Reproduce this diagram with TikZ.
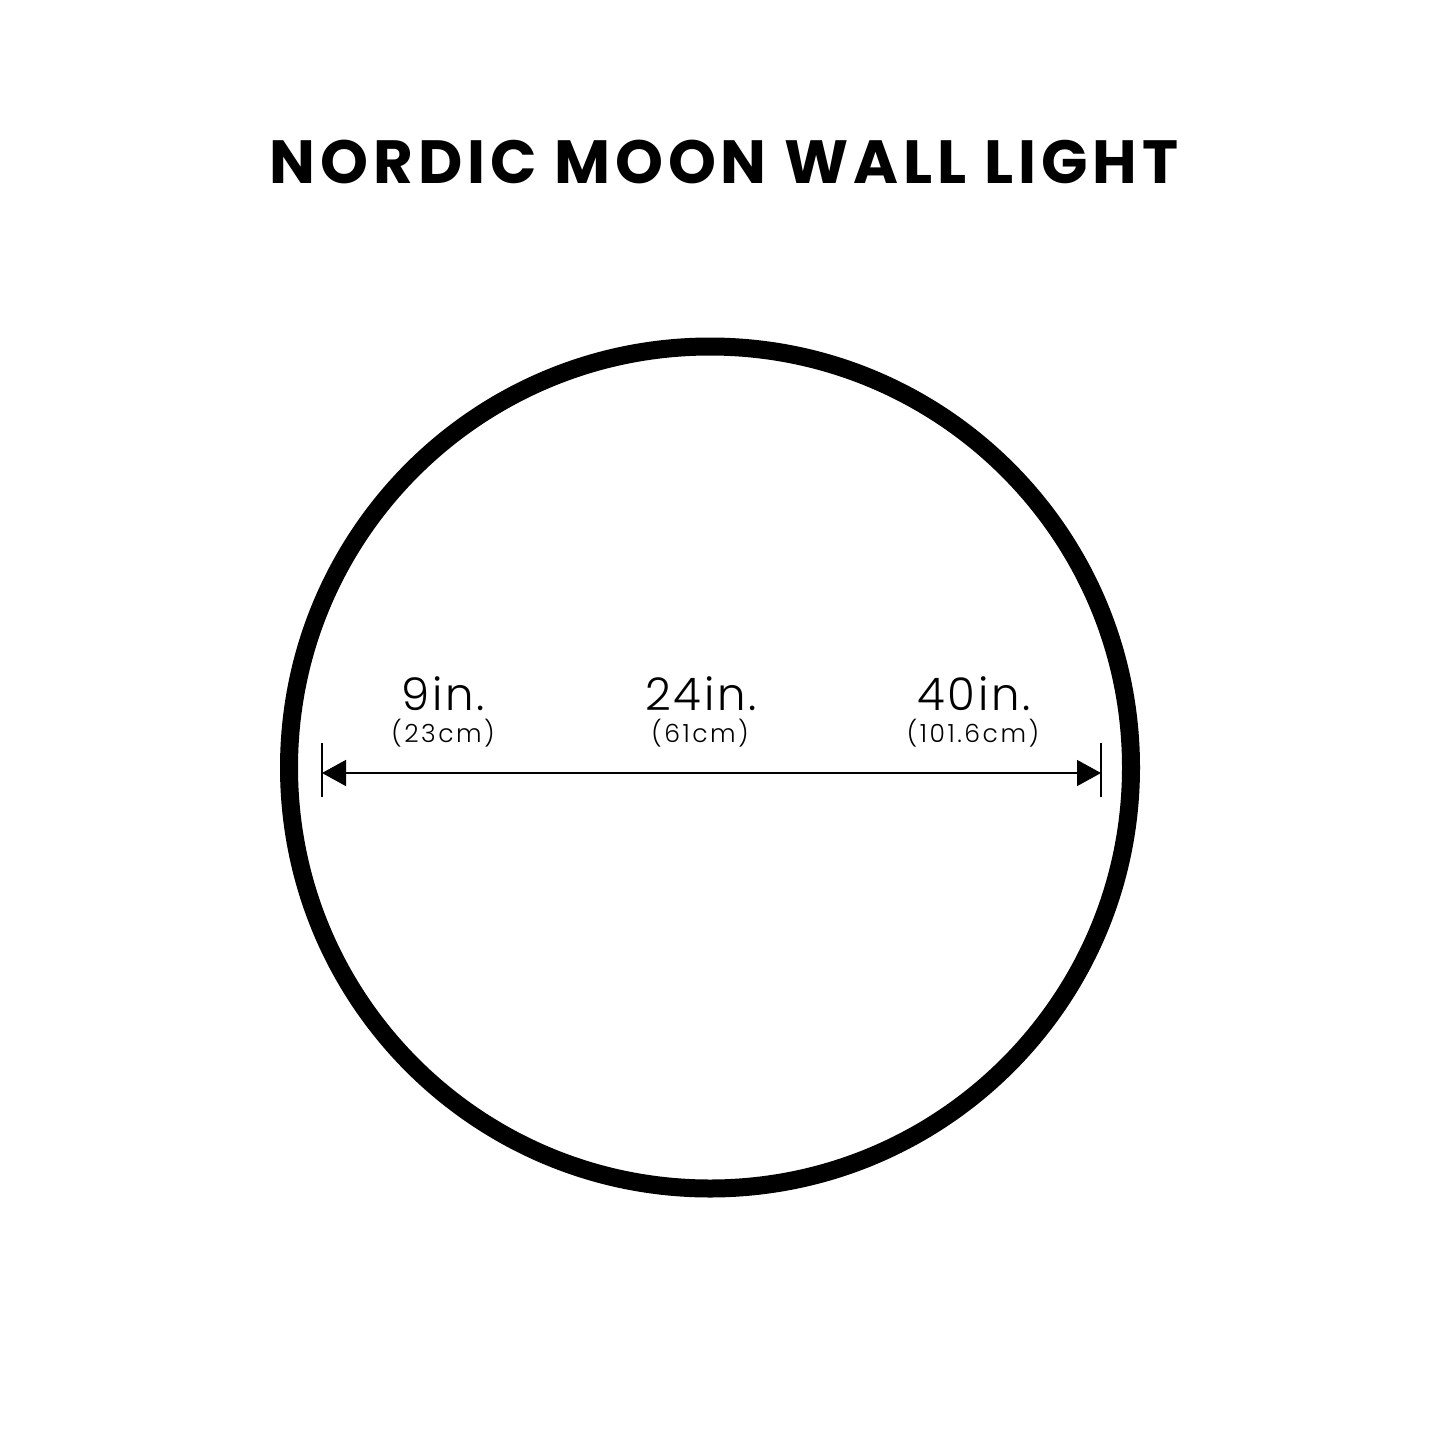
\documentclass[tikz,border=0pt]{standalone}
\usepackage{fontspec}
\setmainfont{Poppins}
\newfontfamily\bigfont[LetterSpace=6.5]{Poppins Light}
\newfontfamily\smallfont[LetterSpace=10]{Poppins Light}
\newfontfamily\titlefont[LetterSpace=8]{Poppins Bold}
\usetikzlibrary{arrows.meta}
\tikzset{
  titletext/.style={font=\titlefont\fontsize{61}{61}\selectfont, anchor=base, inner sep=0pt},
  bigdim/.style={font=\bigfont\fontsize{45}{45}\selectfont, anchor=base, inner sep=0pt},
  smalldim/.style={font=\smallfont\fontsize{25}{25}\selectfont, anchor=base, inner sep=0pt},
  ring/.style={line width=18pt, draw=black},
  tick/.style={line width=1.5pt, draw=black},
  dimline/.style={line width=1.5pt, draw=black, {Triangle[length=24pt,width=26pt]}-{Triangle[length=24pt,width=26pt]}}
}
\begin{document}
\begin{tikzpicture}[x=1pt,y=-1pt]
\useasboundingbox[fill=white] (0,0) rectangle (1445,1445);
\node[titletext] (title) at (724,183) {NORDIC MOON WALL LIGHT};
\draw[ring] (710,767.5) circle (421);
\coordinate (lt1) at (322,743);
\coordinate (lt2) at (322,797);
\coordinate (rt1) at (1101,743);
\coordinate (rt2) at (1101,797);
\coordinate (la) at (322,773);
\coordinate (ra) at (1101,773);
\draw[tick] (lt1) -- (lt2);
\draw[tick] (rt1) -- (rt2);
\draw[dimline] (la) -- (ra);
\node[bigdim] (a1) at (443,710) {9in.};
\node[smalldim] (a2) at (443,742) {(23cm)};
\node[bigdim] (b1) at (701,710) {24in.};
\node[smalldim] (b2) at (700,742) {(61cm)};
\node[bigdim] (c1) at (974,710) {40in.};
\node[smalldim] (c2) at (973,742) {(101.6cm)};
\end{tikzpicture}
\end{document}
